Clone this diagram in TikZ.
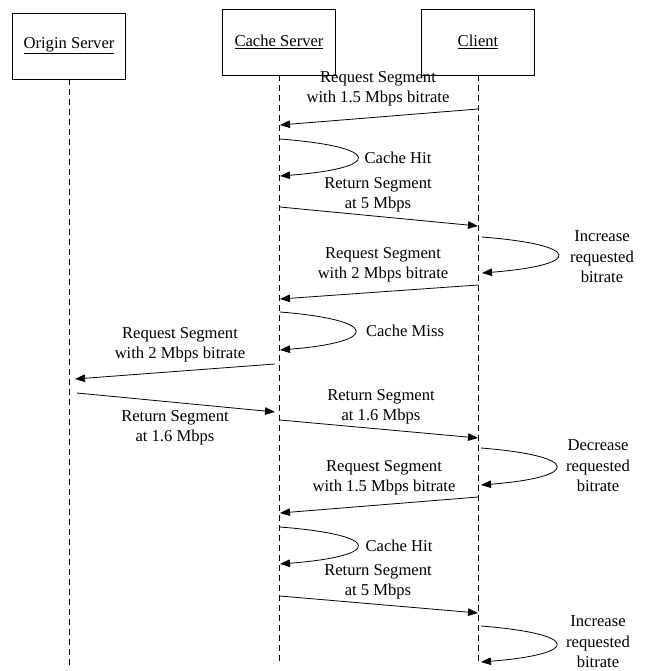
\documentclass[tikz,border=0pt]{standalone}
\usepackage{fontspec}
\setmainfont{Liberation Serif}
\usetikzlibrary{arrows.meta,positioning}

\begin{document}
\begin{tikzpicture}[
  x=1pt,y=-1pt,
  actor/.style={rectangle,draw=black,line width=0.8pt,minimum width=113pt,minimum height=66pt,
               font=\fontsize{16.6}{20.5}\selectfont,inner sep=0pt},
  life/.style={line width=0.8pt,dash pattern=on 6pt off 4pt},
  msg/.style={-{Triangle[length=10pt,width=7.5pt]},line width=0.8pt},
  lbl/.style={font=\fontsize{16.6}{20.5}\selectfont,align=center,inner sep=0pt}
]
\useasboundingbox (0,0) rectangle (648,671);
% actors
\node[actor] (origin) at (69,46) {\underline{Origin Server}};
\node[actor] (cache) at (279,42) {\underline{Cache Server}};
\node[actor] (client) at (478,42) {\underline{Client}};
% lifelines
\coordinate (originEnd) at (69,665);
\coordinate (cacheEnd) at (279,665);
\coordinate (clientEnd) at (478,665);
\draw[life] (origin) -- (originEnd);
\draw[life] (cache) -- (cacheEnd);
\draw[life] (client) -- (clientEnd);

% first request, served from cache
\coordinate (reqA1) at (478,109);
\coordinate (reqA2) at (280,125);
\draw[msg] (reqA1) -- (reqA2);
\node[lbl] (reqAlbl) at (378,89) {Request Segment\\with 1.5 Mbps bitrate};
\coordinate (hitA1) at (280,139);
\coordinate (hitA2) at (280,176);
\draw[msg] (hitA1) .. controls +(103,8) and +(103,-8) .. (hitA2);
\node[lbl] (hitAlbl) at (398,158) {Cache Hit};
\coordinate (retA1) at (280,207);
\coordinate (retA2) at (478,226);
\draw[msg] (retA1) -- (retA2);
\node[lbl] (retAlbl) at (378,195) {Return Segment\\at 5 Mbps};
\coordinate (incA1) at (482,237);
\coordinate (incA2) at (482,273);
\draw[msg] (incA1) .. controls +(101,8) and +(101,-8) .. (incA2);
\node[lbl] (incAlbl) at (602,257) {Increase\\requested\\bitrate};

% second request, cache miss
\coordinate (reqB1) at (478,285);
\coordinate (reqB2) at (280,299);
\draw[msg] (reqB1) -- (reqB2);
\node[lbl] (reqBlbl) at (383,265) {Request Segment\\with 2 Mbps bitrate};
\coordinate (miss1) at (280,312);
\coordinate (miss2) at (280,350);
\draw[msg] (miss1) .. controls +(100,8) and +(100,-8) .. (miss2);
\node[lbl] (misslbl) at (405,331) {Cache Miss};
\coordinate (fwd1) at (275,364);
\coordinate (fwd2) at (75,379);
\draw[msg] (fwd1) -- (fwd2);
\node[lbl] (fwdlbl) at (180,345) {Request Segment\\with 2 Mbps bitrate};
\coordinate (back1) at (77,393);
\coordinate (back2) at (275,412);
\draw[msg] (back1) -- (back2);
\node[lbl] (backlbl) at (175,428) {Return Segment\\at 1.6 Mbps};
\coordinate (retB1) at (280,420);
\coordinate (retB2) at (478,438);
\draw[msg] (retB1) -- (retB2);
\node[lbl] (retBlbl) at (381,407) {Return Segment\\at 1.6 Mbps};
\coordinate (dec1) at (481,448);
\coordinate (dec2) at (481,485);
\draw[msg] (dec1) .. controls +(100,8) and +(100,-8) .. (dec2);
\node[lbl] (declbl) at (598,466) {Decrease\\requested\\bitrate};

% third request, served from cache
\coordinate (reqC1) at (478,497);
\coordinate (reqC2) at (280,513);
\draw[msg] (reqC1) -- (reqC2);
\node[lbl] (reqClbl) at (384,478) {Request Segment\\with 1.5 Mbps bitrate};
\coordinate (hitB1) at (280,527);
\coordinate (hitB2) at (280,564);
\draw[msg] (hitB1) .. controls +(103,8) and +(103,-8) .. (hitB2);
\node[lbl] (hitBlbl) at (399,546) {Cache Hit};
\coordinate (retC1) at (280,596);
\coordinate (retC2) at (478,613);
\draw[msg] (retC1) -- (retC2);
\node[lbl] (retClbl) at (378,582) {Return Segment\\at 5 Mbps};
\coordinate (incB1) at (481,626);
\coordinate (incB2) at (481,662);
\draw[msg] (incB1) .. controls +(100,8) and +(100,-8) .. (incB2);
\node[lbl] (incBlbl) at (598,642) {Increase\\requested\\bitrate};
\end{tikzpicture}
\end{document}
